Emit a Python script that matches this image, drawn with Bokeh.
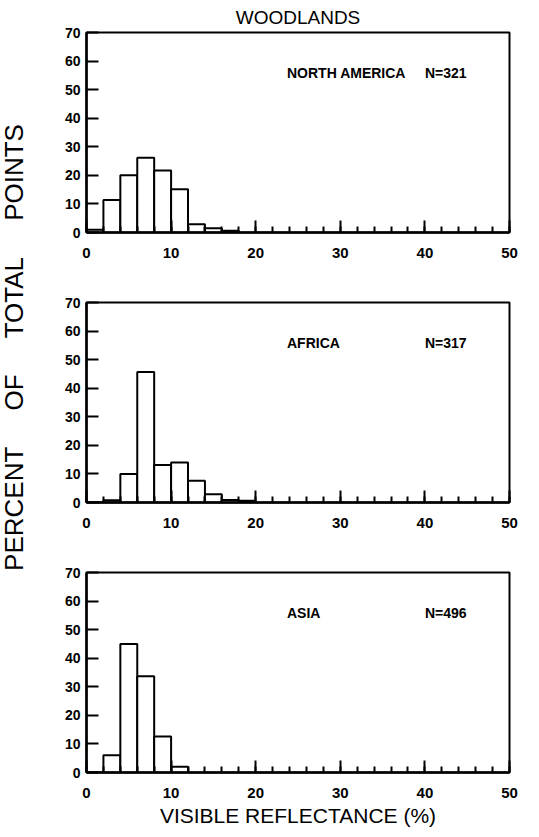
import math
from bokeh.plotting import figure
from bokeh.layouts import row, column
from bokeh.models import Range1d, FixedTicker, Label, Title, ColumnDataSource
from bokeh.embed import file_html
from bokeh.resources import INLINE

# ---- data (percent of total points per 2% reflectance bin, starting at 0) ----
bin_width = 2
north_america = [1.0, 11.4, 20.0, 26.2, 21.7, 15.1, 2.9, 1.5, 0.6]
africa = [0.0, 0.8, 10.0, 45.7, 13.1, 14.0, 7.6, 2.9, 0.9, 0.6]
asia = [0.0, 6.0, 45.0, 33.7, 12.6, 2.0]

region_names = ["NORTH AMERICA", "AFRICA", "ASIA"]
sample_sizes = ["N=321", "N=317", "N=496"]
x_ticks = [0, 10, 20, 30, 40, 50]
x_minor = list(range(0, 51, 2))
y_ticks = [0, 10, 20, 30, 40, 50, 60, 70]

title_text = "WOODLANDS"
x_title = "VISIBLE REFLECTANCE (%)"
y_title = "PERCENT OF TOTAL POINTS"

FONT = "Liberation Sans"


def panel(values, name, n_text, top_border, bottom_border, first=False, last=False):
    edges = [i * bin_width for i in range(len(values))]
    src = ColumnDataSource(dict(
        left=edges,
        right=[e + bin_width for e in edges],
        top=values,
        bottom=[0] * len(values),
    ))
    p = figure(frame_width=423, frame_height=200,
               x_range=Range1d(0, 50), y_range=Range1d(0, 70),
               output_backend="svg", toolbar_location=None,
               min_border_left=39, min_border_right=13,
               min_border_top=top_border, min_border_bottom=bottom_border,
               background_fill_color="white", border_fill_color="white")
    p.quad(left="left", right="right", top="top", bottom="bottom", source=src,
           fill_color="white", line_color="black", line_width=2)
    p.grid.visible = False
    p.outline_line_color = "black"
    p.outline_line_width = 2
    p.outline_line_alpha = 1

    xa = p.xaxis[0]
    xa.ticker = FixedTicker(ticks=x_ticks, minor_ticks=x_minor)
    xa.axis_line_width = 2.5
    xa.major_tick_in = 12
    xa.major_tick_out = 0
    xa.minor_tick_in = 6
    xa.minor_tick_out = 0
    xa.major_tick_line_width = 2
    xa.minor_tick_line_width = 2
    xa.major_label_standoff = 15
    xa.major_label_text_font = FONT
    xa.major_label_text_font_style = "bold"
    xa.major_label_text_font_size = "15px"
    xa.major_label_text_color = "black"

    ya = p.yaxis[0]
    ya.ticker = FixedTicker(ticks=y_ticks)
    ya.axis_line_width = 2.5
    ya.major_tick_in = 12
    ya.major_tick_out = 0
    ya.minor_tick_in = 0
    ya.minor_tick_out = 0
    ya.major_tick_line_width = 2
    ya.major_label_standoff = 6
    ya.major_label_text_font = FONT
    ya.major_label_text_font_style = "bold"
    ya.major_label_text_font_size = "14px"
    ya.major_label_text_color = "black"

    p.add_layout(Label(x=23.7, y=56, text=name, text_font=FONT, text_font_style="bold",
                       text_font_size="14px", text_baseline="middle", text_color="black"))
    p.add_layout(Label(x=40.0, y=56, text=n_text, text_font=FONT, text_font_style="bold",
                       text_font_size="14px", text_baseline="middle", text_color="black"))

    if first:
        t = Title(text=title_text, align="center", text_font=FONT, text_font_size="19px",
                  text_font_style="normal", text_color="black", standoff=9)
        p.add_layout(t, "above")
    if last:
        xa.axis_label = x_title
        xa.axis_label_text_font = FONT
        xa.axis_label_text_font_size = "21px"
        xa.axis_label_text_font_style = "normal"
        xa.axis_label_text_color = "black"
        xa.axis_label_standoff = 3
    return p


f1 = panel(north_america, region_names[0], sample_sizes[0], 24, 35, first=True)
f2 = panel(africa, region_names[1], sample_sizes[1], 35, 35)
f3 = panel(asia, region_names[2], sample_sizes[2], 35, 57, last=True)

total_h = 821
f0 = figure(frame_width=47, frame_height=total_h, x_range=Range1d(0, 47), y_range=Range1d(0, total_h),
            output_backend="svg", toolbar_location=None,
            x_axis_location=None, y_axis_location=None,
            min_border=0, outline_line_color=None)
f0.grid.visible = False
nb = "\u00a0"
f0.add_layout(Label(x=13, y=total_h - 347, text=y_title.replace(" ", nb * 5),
                    angle=math.pi / 2, text_align="center", text_baseline="middle",
                    text_font=FONT, text_font_size="26px", text_color="black"))

layout = row(f0, column(f1, f2, f3))
open("out.html", "w").write(file_html(layout, INLINE))
